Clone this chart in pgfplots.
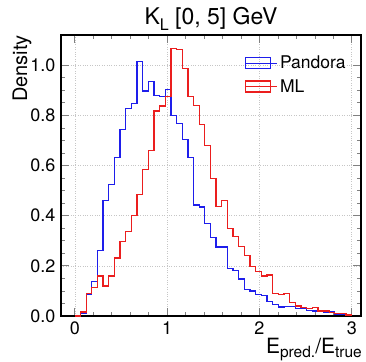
\documentclass[border=0pt]{standalone}
\usepackage{pgfplots}
\usepackage{pgfplotstable}
\pgfplotsset{compat=1.18}
\usepackage{fontspec}
\setmainfont{TeX Gyre Heros}
\definecolor{pblue}{RGB}{30,30,235}
\definecolor{pred}{RGB}{235,30,30}
\newcommand{\sbs}[1]{\raisebox{-0.2em}{\fontsize{15.5}{15.5}\selectfont #1}}
% step outlines of the two histograms (bin edges 0..3 in 49 bins)
\pgfplotstableread{
x y
0 0
0.061224 0
0.061224 0.012
0.122449 0.012
0.122449 0.085
0.183673 0.085
0.183673 0.137
0.244898 0.137
0.244898 0.26
0.306122 0.26
0.306122 0.46
0.367347 0.46
0.367347 0.523
0.428571 0.523
0.428571 0.631
0.489796 0.631
0.489796 0.743
0.551020 0.743
0.551020 0.827
0.612245 0.827
0.612245 0.847
0.673469 0.847
0.673469 1.013
0.734694 1.013
0.734694 0.897
0.795918 0.897
0.795918 0.935
0.857143 0.935
0.857143 0.88
0.918367 0.88
0.918367 0.876
0.979592 0.876
0.979592 0.903
1.040816 0.903
1.040816 0.80
1.102041 0.80
1.102041 0.767
1.163265 0.767
1.163265 0.703
1.224490 0.703
1.224490 0.631
1.285714 0.631
1.285714 0.443
1.346939 0.443
1.346939 0.435
1.408163 0.435
1.408163 0.369
1.469388 0.369
1.469388 0.313
1.530612 0.313
1.530612 0.275
1.653061 0.275
1.653061 0.188
1.714286 0.188
1.714286 0.18
1.775510 0.18
1.775510 0.147
1.836735 0.147
1.836735 0.107
1.897959 0.107
1.897959 0.10
1.959184 0.10
1.959184 0.085
2.020408 0.085
2.020408 0.083
2.081633 0.083
2.081633 0.058
2.142857 0.058
2.142857 0.045
2.204082 0.045
2.204082 0.036
2.265306 0.036
2.265306 0.038
2.387755 0.038
2.387755 0.03
2.510204 0.03
2.510204 0.023
2.571429 0.023
2.571429 0.02
2.632653 0.02
2.632653 0.017
2.693878 0.017
2.693878 0.013
2.755102 0.013
2.755102 0.016
2.816327 0.016
2.816327 0.008
2.877551 0.008
2.877551 0.006
2.938776 0.006
2.938776 0.004
3.0 0.004
3.0 0
}\pandora
\pgfplotstableread{
x y
0 0
0.061224 0
0.061224 0.016
0.122449 0.016
0.122449 0.091
0.183673 0.091
0.183673 0.113
0.244898 0.113
0.244898 0.16
0.306122 0.16
0.306122 0.12
0.367347 0.12
0.367347 0.16
0.428571 0.16
0.428571 0.231
0.489796 0.231
0.489796 0.296
0.551020 0.296
0.551020 0.336
0.612245 0.336
0.612245 0.40
0.673469 0.40
0.673469 0.484
0.734694 0.484
0.734694 0.583
0.795918 0.583
0.795918 0.66
0.857143 0.66
0.857143 0.817
0.918367 0.817
0.918367 0.837
0.979592 0.837
0.979592 0.876
1.040816 0.876
1.040816 1.067
1.102041 1.067
1.102041 1.063
1.163265 1.063
1.163265 0.987
1.224490 0.987
1.224490 0.876
1.285714 0.876
1.285714 0.84
1.346939 0.84
1.346939 0.763
1.408163 0.763
1.408163 0.68
1.469388 0.68
1.469388 0.547
1.530612 0.547
1.530612 0.437
1.591837 0.437
1.591837 0.46
1.653061 0.46
1.653061 0.349
1.714286 0.349
1.714286 0.316
1.775510 0.316
1.775510 0.276
1.836735 0.276
1.836735 0.24
1.897959 0.24
1.897959 0.197
1.959184 0.197
1.959184 0.177
2.020408 0.177
2.020408 0.16
2.081633 0.16
2.081633 0.164
2.142857 0.164
2.142857 0.089
2.204082 0.089
2.204082 0.087
2.265306 0.087
2.265306 0.089
2.326531 0.089
2.326531 0.053
2.387755 0.053
2.387755 0.04
2.448980 0.04
2.448980 0.033
2.510204 0.033
2.510204 0.029
2.571429 0.029
2.571429 0.033
2.632653 0.033
2.632653 0.02
2.755102 0.02
2.755102 0.013
2.816327 0.013
2.816327 0.011
2.877551 0.011
2.877551 0.009
2.938776 0.009
2.938776 0.004
3.0 0.004
3.0 0
}\mldata
\begin{document}
\begin{tikzpicture}
\useasboundingbox (-61pt,-45pt) rectangle (305pt,316pt);
\begin{axis}[
  width=300pt, height=281pt, scale only axis,
  xmin=-0.15, xmax=3.1, ymin=0, ymax=1.12,
  xtick={0,1,2,3}, ytick={0,0.2,0.4,0.6,0.8,1.0},
  minor x tick num=4, minor y tick num=3,
  xtick pos=both, ytick pos=both,
  xticklabel pos=bottom, yticklabel pos=left,
  tick align=inside,
  major tick length=8pt, minor tick length=4pt,
  major tick style={line width=0.8pt},
  minor tick style={line width=0.6pt},
  grid=major, major grid style={gray!45, dotted, line width=0.6pt},
  axis line style={line width=1.3pt},
  /pgf/number format/assume math mode=true,
  yticklabel style={xshift=-2pt, /pgf/number format/.cd, fixed, fixed zerofill, precision=1},
  ticklabel style={font=\fontsize{18}{18}\selectfont},
  xticklabel style={yshift=-2pt},
  title={K\raisebox{-0.25em}{\fontsize{16}{16}\selectfont L} [0, 5] GeV},
  title style={font=\fontsize{23}{23}\selectfont, at={(axis description cs:0.5,1)}, anchor=base, yshift=4pt, inner sep=0pt},
  xlabel={E\sbs{pred.}/E\sbs{true}},
  xlabel style={font=\fontsize{21}{21}\selectfont, at={(axis description cs:1,0)}, anchor=base east, yshift=-37.5pt, xshift=1pt, inner sep=0pt},
  ylabel={Density},
  ylabel style={font=\fontsize{20}{20}\selectfont, at={(axis description cs:-0.1133,1)}, anchor=base east, inner sep=0pt},
  legend style={at={(axis description cs:0.605,0.94)}, anchor=north west, draw=none, fill=none,
    font=\fontsize{17.5}{17.5}\selectfont, row sep=5pt, inner sep=2pt},
  legend cell align=left,
]
\addplot[color=pblue, line width=1.3pt, sharp plot,
  legend image code/.code={\draw[draw=pblue, line width=1.2pt] (0pt,-5.5pt) rectangle (25pt,5.5pt); \path (0pt,0pt) -- (32pt,0pt);}]
  table[x=x,y=y] {\pandora};
\addlegendentry{Pandora}
\addplot[color=pred, line width=1.3pt, sharp plot,
  legend image code/.code={\draw[draw=pred, line width=1.2pt] (0pt,-5.5pt) rectangle (25pt,5.5pt); \path (0pt,0pt) -- (32pt,0pt);}]
  table[x=x,y=y] {\mldata};
\addlegendentry{ML}
\end{axis}
\end{tikzpicture}
\end{document}
